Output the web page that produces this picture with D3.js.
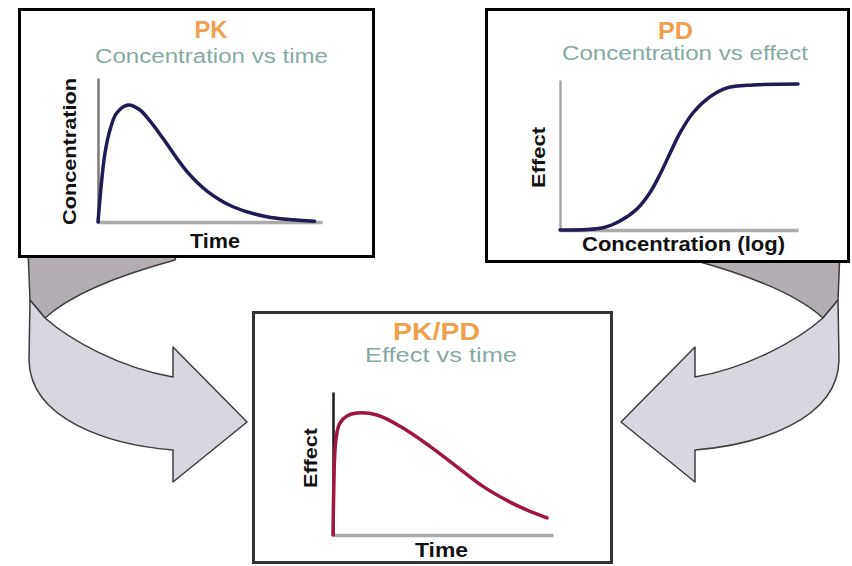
<!DOCTYPE html>
<html>
<head>
<meta charset="utf-8">
<script src="https://cdn.jsdelivr.net/npm/d3@7"></script>
<style>
  body { margin: 0; background: #fff; }
  svg { display: block; font-family: "Liberation Sans", Arial, sans-serif; }
</style>
</head>
<body>
<div class="chart"></div>
<script>
// PK: concentration vs time
const pkTime = [0, 0.2, 0.375, 0.64, 1.0, 1.62, 2.25, 2.79, 3.32, 3.7, 4.77, 5.84, 7.23, 9.05, 11.6];
const pkConc = [0, 29.2, 47.9, 63.9, 75.7, 81.3, 77.8, 70, 61, 54, 35, 21.5, 10.6, 3.6, 0.5];

// PD: effect vs concentration (log)
const pdConc = [0.001, 0.0121, 0.0324, 0.087, 0.186, 0.331, 0.59, 1.06, 2.24, 6.0, 16.2, 73, 1000];
const pdEffect = [0, 1.5, 6, 14, 25, 37, 51, 64.7, 78, 88.7, 94.7, 96.7, 97.3];

// PK/PD: effect vs time
const pkpdTime = [0, 0.05, 0.11, 0.22, 0.38, 0.76, 1.31, 2.4, 3.66, 5.29, 6.77, 8.18, 9.66, 10.75, 11.67];
const pkpdEffect = [0, 38, 59.4, 72, 78.3, 83.2, 85.3, 83.9, 76, 62, 47.6, 34, 23, 16.5, 12];

const panelTitles = ["PK", "PD", "PK/PD"];
const panelSubtitles = ["Concentration vs time", "Concentration vs effect", "Effect vs time"];
const xLabels = ["Time", "Concentration (log)", "Time"];
const yLabels = ["Concentration", "Effect", "Effect"];

const width = 852;
const height = 566;

const svg = d3.select(".chart").append("svg")
    .attr("width", width)
    .attr("height", height);

// Curved connector arrows (left one drawn, right one mirrored)
const arrowBack = () => {
    const p = d3.path();
    p.moveTo(28, 250);
    p.lineTo(178, 250);
    p.lineTo(175, 260);
    p.bezierCurveTo(120, 275, 70, 295, 45, 318);
    p.lineTo(30, 300);
    p.closePath();
    return p.toString();
};
const arrowFront = () => {
    const p = d3.path();
    p.moveTo(30, 300);
    p.lineTo(29, 360);
    p.bezierCurveTo(30, 420, 110, 445, 173, 450);
    p.lineTo(173, 482);
    p.lineTo(247, 422);
    p.lineTo(173, 347);
    p.lineTo(173, 377);
    p.bezierCurveTo(120, 368, 70, 340, 45, 318);
    p.closePath();
    return p.toString();
};

["translate(0,0)", "translate(868,0) scale(-1,1)"].forEach(tf => {
    let g = svg.append("g").attr("transform", tf);
    g.append("path")
        .attr("d", arrowBack())
        .attr("fill", "#b4aeb4")
        .attr("stroke", "#3c3c3c")
        .attr("stroke-width", 1.5)
        .attr("stroke-linejoin", "round");
    g.append("path")
        .attr("d", arrowFront())
        .attr("fill", "#d8d6de")
        .attr("stroke", "#3c3c3c")
        .attr("stroke-width", 1.5)
        .attr("stroke-linejoin", "round");
});

// Panel layout
const panels = [
    {
        box: [18, 8, 375, 258], boxColor: "#000",
        x: d3.scaleLinear().domain([0, 12]).range([98, 322]),
        y: d3.scaleLinear().domain([0, 100]).range([222, 78]),
        xs: pkTime, ys: pkConc, lineColor: "#1e1b55", yAxisColor: "#7a7a7a",
        title: [211, 38, 33], sub: [211.5, 63, 233],
        xLab: [215, 248, 50], yLab: [76, 151.5, 147]
    },
    {
        box: [485, 8, 850, 263], boxColor: "#000",
        x: d3.scaleLog().domain([0.001, 1000]).range([560, 798]),
        y: d3.scaleLinear().domain([0, 100]).range([230, 80]),
        xs: pdConc, ys: pdEffect, lineColor: "#1e1b55", yAxisColor: "#a8a8a8",
        title: [675.5, 39, 35], sub: [685, 60, 246],
        xLab: [683.5, 251, 203], yLab: [545, 157.5, 61]
    },
    {
        box: [252, 311, 613, 564], boxColor: "#333",
        x: d3.scaleLinear().domain([0, 12]).range([333, 553]),
        y: d3.scaleLinear().domain([0, 100]).range([535, 392]),
        xs: pkpdTime, ys: pkpdEffect, lineColor: "#a0163f", yAxisColor: "#1a1a1a",
        title: [436.5, 340, 87], sub: [441, 362, 152],
        xLab: [441.5, 557, 53], yLab: [317, 458, 60]
    }
];

panels.forEach((p, i) => {
    let g = svg.append("g");
    let [x0, y0, x1, y1] = p.box;

    g.append("rect")
        .attr("x", x0 + 1.5)
        .attr("y", y0 + 1.5)
        .attr("width", x1 - x0 - 3)
        .attr("height", y1 - y0 - 3)
        .attr("fill", "#fff")
        .attr("stroke", p.boxColor)
        .attr("stroke-width", 3);

    // Axes without ticks
    let xAxis = d3.axisBottom(p.x).tickValues([]).tickSizeOuter(0);
    let yAxis = d3.axisLeft(p.y).tickValues([]).tickSizeOuter(0);
    g.append("g")
        .attr("transform", "translate(0," + p.y.range()[0] + ")")
        .call(xAxis)
        .select(".domain")
        .attr("stroke", "#ababab")
        .attr("stroke-width", 3.5);
    g.append("g")
        .attr("transform", "translate(" + p.x.range()[0] + ",0)")
        .call(yAxis)
        .select(".domain")
        .attr("stroke", p.yAxisColor)
        .attr("stroke-width", 2.5);

    // Curve
    let pts = p.xs.map((v, k) => [v, p.ys[k]]);
    let line = d3.line()
        .x(d => p.x(d[0]))
        .y(d => p.y(d[1]))
        .curve(d3.curveCatmullRom.alpha(0.5));
    g.append("path")
        .datum(pts)
        .attr("d", line)
        .attr("fill", "none")
        .attr("stroke", p.lineColor)
        .attr("stroke-width", 3.5)
        .attr("stroke-linecap", "round");

    // Texts
    g.append("text")
        .attr("x", p.title[0])
        .attr("y", p.title[1])
        .attr("text-anchor", "middle")
        .attr("font-size", 24)
        .attr("font-weight", "bold")
        .attr("fill", "#f0a04c")
        .attr("textLength", p.title[2])
        .attr("lengthAdjust", "spacingAndGlyphs")
        .text(panelTitles[i]);
    g.append("text")
        .attr("x", p.sub[0])
        .attr("y", p.sub[1])
        .attr("text-anchor", "middle")
        .attr("font-size", 20)
        .attr("fill", "#86a9a2")
        .attr("textLength", p.sub[2])
        .attr("lengthAdjust", "spacingAndGlyphs")
        .text(panelSubtitles[i]);
    g.append("text")
        .attr("x", p.xLab[0])
        .attr("y", p.xLab[1])
        .attr("text-anchor", "middle")
        .attr("font-size", 20)
        .attr("font-weight", "bold")
        .attr("fill", "#111")
        .attr("textLength", p.xLab[2])
        .attr("lengthAdjust", "spacingAndGlyphs")
        .text(xLabels[i]);
    g.append("text")
        .attr("transform", "translate(" + p.yLab[0] + "," + p.yLab[1] + ") rotate(-90)")
        .attr("text-anchor", "middle")
        .attr("font-size", 19)
        .attr("font-weight", "bold")
        .attr("fill", "#111")
        .attr("textLength", p.yLab[2])
        .attr("lengthAdjust", "spacingAndGlyphs")
        .text(yLabels[i]);
});
</script>
</body>
</html>
